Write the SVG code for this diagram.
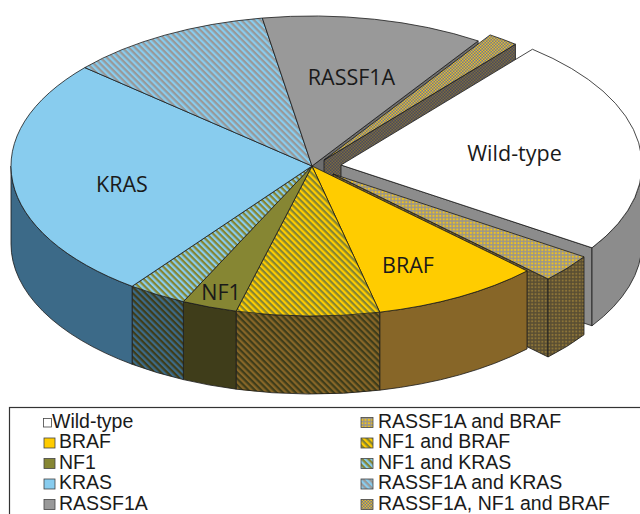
<svg xmlns="http://www.w3.org/2000/svg" width="640" height="514" viewBox="0 0 640 514">
<style>
.e{stroke:#1a1a1a;stroke-width:0.8;stroke-linejoin:round}
.lbl{font-family:"Open Sans","Noto Sans",sans-serif;font-size:21.5px;fill:#1a1a1a;text-anchor:middle}
.lg{font-family:"Liberation Sans",Arial,sans-serif;font-size:19.5px;fill:#1a1a1a}
.sw{stroke:#444;stroke-width:0.8}
</style>
<defs>
<pattern id="stNB" width="4.5" height="4.5" patternUnits="userSpaceOnUse" patternTransform="rotate(45)"><rect width="4.5" height="4.5" fill="#FFCC00"/><rect width="4.5" height="2.25" fill="#868633"/></pattern>
<pattern id="stNK" width="4.5" height="4.5" patternUnits="userSpaceOnUse" patternTransform="rotate(45)"><rect width="4.5" height="4.5" fill="#88CCEE"/><rect width="4.5" height="2.25" fill="#868633"/></pattern>
<pattern id="stRK" width="4.5" height="4.5" patternUnits="userSpaceOnUse" patternTransform="rotate(45)"><rect width="4.5" height="4.5" fill="#88CCEE"/><rect width="4.5" height="2.25" fill="#999999"/></pattern>
<pattern id="sNB" width="4.5" height="4.5" patternUnits="userSpaceOnUse" patternTransform="rotate(45)"><rect width="4.5" height="4.5" fill="#876628"/><rect width="4.5" height="2.25" fill="#3F3D1A"/></pattern>
<pattern id="sNK" width="4.5" height="4.5" patternUnits="userSpaceOnUse" patternTransform="rotate(45)"><rect width="4.5" height="4.5" fill="#3C6A88"/><rect width="4.5" height="2.25" fill="#3F3D1A"/></pattern>
<pattern id="dRB" width="3.4" height="3.4" patternUnits="userSpaceOnUse"><rect width="3.4" height="3.4" fill="#9b968a"/><circle cx="1.7" cy="1.7" r="1.1" fill="#efc21c"/></pattern>
<pattern id="sRB" width="3.4" height="3.4" patternUnits="userSpaceOnUse"><rect width="3.4" height="3.4" fill="#5a4e32"/><circle cx="1.7" cy="1.7" r="1.1" fill="#8c7438"/></pattern>
<pattern id="cRNB" width="3" height="3" patternUnits="userSpaceOnUse"><rect width="3" height="3" fill="#6e7896"/><rect width="1.5" height="1.5" fill="#e8bc24"/><rect x="1.5" y="1.5" width="1.5" height="1.5" fill="#e8bc24"/></pattern>
<pattern id="sRNB" width="3" height="3" patternUnits="userSpaceOnUse"><rect width="3" height="3" fill="#4a4a5e"/><rect width="1.5" height="1.5" fill="#7c6c3c"/><rect x="1.5" y="1.5" width="1.5" height="1.5" fill="#7c6c3c"/></pattern>
</defs>
<rect width="640" height="514" fill="#ffffff"/>

<!-- main RASSF1A radial face (mostly hidden) -->
<path class="e" d="M312 166 L478.13 40.92 L478.13 118.92 L312 244 Z" fill="#6e6e6e"/>

<g id="slice-rassf1a-nf1-braf">
<path class="e" d="M324 160 L515.46 44.26 L515.46 122.26 L324 238 Z" fill="url(#sRNB)"/>
<path class="e" d="M324 160 L490.13 34.92 A301 150 0 0 1 515.46 44.26 Z" fill="url(#cRNB)"/>
</g>

<g id="slice-wildtype">
<path class="e" d="M341 165 L592 247.79 L592 325.79 L341 243 Z" fill="#8c8c8c"/>
<path class="e" d="M642 165 A301 150 0 0 1 592 247.79 L592 325.79 A301 150 0 0 0 642 243 Z" fill="#8c8c8c"/>
<path class="e" d="M341 165 L532.46 49.26 A301 150 0 0 1 592 247.79 Z" fill="#ffffff"/>
</g>

<g id="slice-rassf1a-braf">
<path class="e" d="M333 174 L548.06 278.95 L548.06 356.95 L333 252 Z" fill="url(#sRB)"/>
<path class="e" d="M584 256.79 A301 150 0 0 1 548.06 278.95 L548.06 356.95 A301 150 0 0 0 584 334.79 Z" fill="url(#sRB)"/>
<path class="e" d="M333 174 L584 256.79 A301 150 0 0 1 548.06 278.95 Z" fill="url(#dRB)"/>
</g>

<g id="pie-sides">
<path class="e" d="M527.06 270.95 A301 150 0 0 1 379.71 312.16 L379.71 390.16 A301 150 0 0 0 527.06 348.95 Z" fill="#876628"/>
<path class="e" d="M379.71 312.16 A301 150 0 0 1 236.13 311.16 L236.13 389.16 A301 150 0 0 0 379.71 390.16 Z" fill="url(#sNB)"/>
<path class="e" d="M236.13 311.16 A301 150 0 0 1 183.36 301.61 L183.36 379.61 A301 150 0 0 0 236.13 389.16 Z" fill="#3F3D1A"/>
<path class="e" d="M183.36 301.61 A301 150 0 0 1 132.11 286.27 L132.11 364.27 A301 150 0 0 0 183.36 379.61 Z" fill="url(#sNK)"/>
<path class="e" d="M132.11 286.27 A301 150 0 0 1 11 166 L11 244 A301 150 0 0 0 132.11 364.27 Z" fill="#3C6A88"/>
</g>

<g id="slice-braf"><path class="e" d="M312 166 L527.06 270.95 A301 150 0 0 1 379.71 312.16 Z" fill="#FFCC00"/></g>
<g id="slice-nf1-braf"><path class="e" d="M312 166 L379.71 312.16 A301 150 0 0 1 236.13 311.16 Z" fill="url(#stNB)"/></g>
<g id="slice-nf1"><path class="e" d="M312 166 L236.13 311.16 A301 150 0 0 1 183.36 301.61 Z" fill="#868633"/></g>
<g id="slice-nf1-kras"><path class="e" d="M312 166 L183.36 301.61 A301 150 0 0 1 132.11 286.27 Z" fill="url(#stNK)"/></g>
<g id="slice-kras"><path class="e" d="M312 166 L132.11 286.27 A301 150 0 0 1 84.83 67.59 Z" fill="#88CCEE"/></g>
<g id="slice-rassf1a-kras"><path class="e" d="M312 166 L84.83 67.59 A301 150 0 0 1 262.32 18.06 Z" fill="url(#stRK)"/></g>
<g id="slice-rassf1a"><path class="e" d="M312 166 L262.32 18.06 A301 150 0 0 1 478.13 40.92 Z" fill="#999999"/></g>

<g id="labels">
<text class="lbl" x="351.5" y="85">RASSF1A</text>
<text class="lbl" x="514.5" y="161">Wild-type</text>
<text class="lbl" x="122" y="192">KRAS</text>
<text class="lbl" x="408" y="273">BRAF</text>
<text class="lbl" x="221" y="300">NF1</text>
</g>

<g id="legend">
<rect x="9.5" y="407.5" width="640" height="120" fill="#ffffff" stroke="#333" stroke-width="1.2"/>
<rect class="sw" x="43.5" y="418.5" width="8" height="8.5" fill="#ffffff"/>
<text class="lg" x="52" y="427.5">Wild-type</text>
<rect class="sw" x="44" y="438" width="11" height="10" fill="#FFCC00"/>
<text class="lg" x="59" y="448">BRAF</text>
<rect class="sw" x="44" y="458.5" width="11" height="10" fill="#868633"/>
<text class="lg" x="59" y="468.5">NF1</text>
<rect class="sw" x="44" y="479" width="11" height="10" fill="#88CCEE"/>
<text class="lg" x="59" y="489">KRAS</text>
<rect class="sw" x="44" y="499.5" width="11" height="10" fill="#999999"/>
<text class="lg" x="59" y="509.5">RASSF1A</text>

<rect class="sw" x="361" y="417.5" width="12" height="10" fill="url(#dRB)"/>
<text class="lg" x="378" y="427.5">RASSF1A and BRAF</text>
<rect class="sw" x="361" y="438" width="12" height="10" fill="url(#stNB)"/>
<text class="lg" x="378" y="448">NF1 and BRAF</text>
<rect class="sw" x="361" y="458.5" width="12" height="10" fill="url(#stNK)"/>
<text class="lg" x="378" y="468.5">NF1 and KRAS</text>
<rect class="sw" x="361" y="479" width="12" height="10" fill="url(#stRK)"/>
<text class="lg" x="378" y="489">RASSF1A and KRAS</text>
<rect class="sw" x="361" y="499.5" width="12" height="10" fill="url(#cRNB)"/>
<text class="lg" x="378" y="509.5">RASSF1A, NF1 and BRAF</text>
</g>
</svg>
